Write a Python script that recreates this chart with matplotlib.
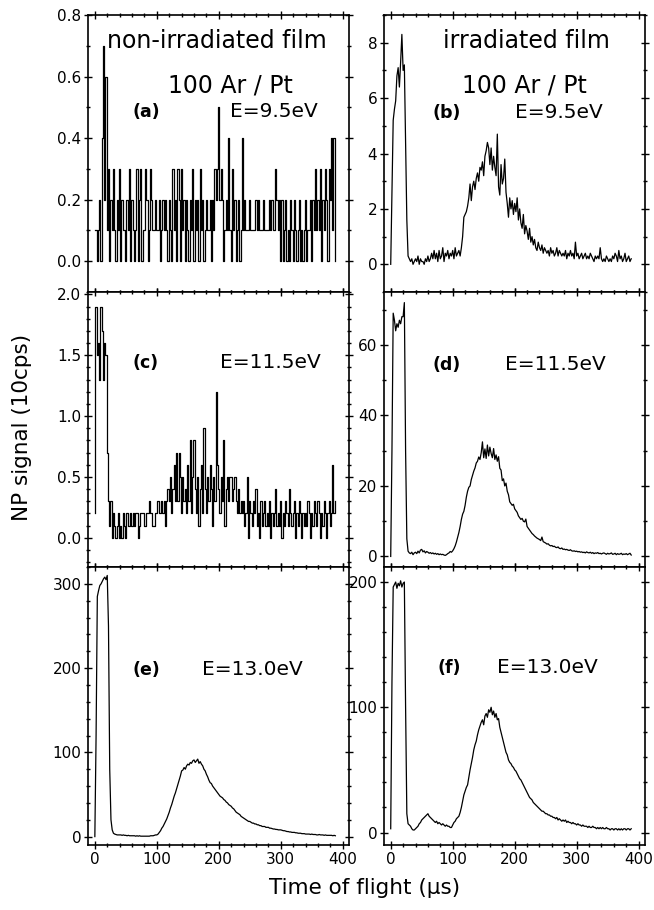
import numpy as np
import matplotlib.pyplot as plt
from matplotlib.ticker import MultipleLocator, FormatStrFormatter

plt.rcParams['font.family'] = ['DejaVu Sans']

# time of flight channels (us)
tof = np.arange(0, 390, 2)

# (a) non-irradiated film, E=9.5eV
sig_a = [0.1, 0.1, 0.0, 0.1, 0.2, 0.0, 0.4, 0.7, 0.2, 0.6,
         0.1, 0.3, 0.0, 0.2, 0.1, 0.3, 0.1, 0.0, 0.2, 0.1,
         0.3, 0.0, 0.2, 0.1, 0.1, 0.0, 0.2, 0.1, 0.3, 0.0,
         0.2, 0.1, 0.0, 0.1, 0.3, 0.0, 0.2, 0.3, 0.0, 0.1,
         0.1, 0.3, 0.2, 0.0, 0.1, 0.3, 0.2, 0.1, 0.1, 0.2,
         0.1, 0.1, 0.2, 0.0, 0.1, 0.2, 0.1, 0.2, 0.1, 0.0,
         0.2, 0.1, 0.0, 0.3, 0.1, 0.2, 0.0, 0.3, 0.2, 0.0,
         0.3, 0.1, 0.2, 0.0, 0.2, 0.1, 0.0, 0.2, 0.1, 0.3,
         0.0, 0.2, 0.1, 0.2, 0.0, 0.3, 0.1, 0.2, 0.0, 0.1,
         0.2, 0.1, 0.1, 0.2, 0.0, 0.2, 0.1, 0.3, 0.2, 0.3,
         0.5, 0.2, 0.3, 0.2, 0.0, 0.1, 0.2, 0.1, 0.4, 0.1,
         0.0, 0.3, 0.1, 0.2, 0.0, 0.1, 0.2, 0.0, 0.1, 0.4,
         0.1, 0.2, 0.1, 0.1, 0.1, 0.2, 0.1, 0.1, 0.1, 0.1,
         0.2, 0.1, 0.2, 0.1, 0.1, 0.1, 0.2, 0.1, 0.1, 0.1,
         0.1, 0.2, 0.1, 0.2, 0.1, 0.1, 0.3, 0.2, 0.1, 0.2,
         0.0, 0.2, 0.0, 0.1, 0.2, 0.0, 0.1, 0.0, 0.2, 0.1,
         0.0, 0.2, 0.1, 0.0, 0.1, 0.2, 0.0, 0.1, 0.0, 0.1,
         0.2, 0.0, 0.1, 0.1, 0.2, 0.0, 0.2, 0.1, 0.3, 0.1,
         0.2, 0.1, 0.3, 0.0, 0.2, 0.1, 0.3, 0.2, 0.0, 0.3,
         0.2, 0.4, 0.1, 0.4, 0.0]

# (b) irradiated film, E=9.5eV
sig_b = [0.0, 2.5, 5.2, 5.6, 5.9, 6.8, 7.1, 6.4, 7.3, 8.3,
         7.0, 7.2, 4.5, 1.6, 0.3, 0.2, 0.1, 0.2, 0.0, 0.1,
         0.2, 0.1, 0.3, 0.0, 0.2, 0.1, 0.1, 0.0, 0.2, 0.1,
         0.3, 0.1, 0.2, 0.4, 0.2, 0.5, 0.2, 0.4, 0.1, 0.5,
         0.2, 0.3, 0.6, 0.1, 0.4, 0.3, 0.5, 0.2, 0.4, 0.3,
         0.5, 0.2, 0.6, 0.3, 0.4, 0.5, 0.3, 0.6, 1.0, 1.7,
         1.8, 1.9, 2.1, 2.4, 2.9, 2.3, 2.8, 3.0, 2.7, 3.1,
         3.3, 3.0, 3.5, 3.4, 3.7, 3.2, 3.9, 4.1, 4.4, 4.2,
         3.6, 4.2, 3.4, 3.9, 3.5, 3.2, 4.7, 2.8, 2.5, 3.6,
         2.9, 3.1, 3.8, 2.6, 2.2, 1.7, 2.4, 2.0, 2.3, 1.8,
         2.2, 1.9, 2.4, 1.6, 2.0, 1.5, 1.3, 1.8, 1.1, 1.4,
         1.2, 0.9, 1.3, 0.8, 1.0, 0.7, 0.9, 0.6, 0.5, 0.8,
         0.6, 0.5, 0.7, 0.4, 0.6, 0.5, 0.4, 0.5, 0.3, 0.6,
         0.4, 0.5, 0.3, 0.4, 0.6, 0.3, 0.5, 0.4, 0.3, 0.4,
         0.3, 0.5, 0.2, 0.4, 0.3, 0.5, 0.3, 0.4, 0.2, 0.8,
         0.3, 0.4, 0.2, 0.3, 0.4, 0.2, 0.3, 0.4, 0.2, 0.3,
         0.2, 0.4, 0.3, 0.2, 0.1, 0.3, 0.2, 0.3, 0.2, 0.6,
         0.2, 0.1, 0.2, 0.1, 0.3, 0.2, 0.1, 0.2, 0.1, 0.3,
         0.2, 0.4, 0.3, 0.1, 0.5, 0.2, 0.3, 0.1, 0.2, 0.4,
         0.1, 0.2, 0.3, 0.1, 0.2]

# (c) non-irradiated film, E=11.5eV
sig_c = [0.2, 1.9, 1.5, 1.6, 1.3, 1.9, 1.7, 1.3, 1.6, 1.5,
         0.7, 0.3, 0.1, 0.3, 0.0, 0.2, 0.1, 0.0, 0.1, 0.2,
         0.0, 0.1, 0.0, 0.2, 0.1, 0.0, 0.2, 0.1, 0.1, 0.2,
         0.1, 0.2, 0.1, 0.2, 0.2, 0.0, 0.1, 0.2, 0.2, 0.2,
         0.1, 0.1, 0.2, 0.2, 0.3, 0.2, 0.2, 0.1, 0.1, 0.2,
         0.2, 0.3, 0.2, 0.2, 0.3, 0.2, 0.3, 0.1, 0.3, 0.4,
         0.3, 0.5, 0.2, 0.4, 0.6, 0.3, 0.7, 0.3, 0.7, 0.5,
         0.2, 0.5, 0.3, 0.4, 0.2, 0.6, 0.3, 0.8, 0.2, 0.5,
         0.8, 0.4, 0.2, 0.5, 0.1, 0.4, 0.6, 0.2, 0.9, 0.4,
         0.2, 0.5, 0.3, 0.6, 0.4, 0.1, 0.5, 0.3, 1.2, 0.6,
         0.4, 0.2, 0.5, 0.3, 0.8, 0.1, 0.4, 0.5, 0.3, 0.5,
         0.5, 0.3, 0.4, 0.5, 0.3, 0.2, 0.4, 0.2, 0.3, 0.2,
         0.3, 0.1, 0.2, 0.5, 0.0, 0.3, 0.2, 0.1, 0.3, 0.2,
         0.4, 0.1, 0.2, 0.0, 0.3, 0.1, 0.2, 0.3, 0.1, 0.2,
         0.1, 0.3, 0.0, 0.2, 0.1, 0.2, 0.4, 0.1, 0.2, 0.1,
         0.3, 0.0, 0.2, 0.1, 0.3, 0.2, 0.1, 0.4, 0.2, 0.1,
         0.2, 0.3, 0.0, 0.2, 0.1, 0.3, 0.2, 0.0, 0.2, 0.1,
         0.2, 0.1, 0.3, 0.2, 0.0, 0.2, 0.1, 0.3, 0.2, 0.1,
         0.3, 0.2, 0.0, 0.2, 0.1, 0.3, 0.2, 0.0, 0.2, 0.3,
         0.1, 0.2, 0.6, 0.2, 0.3]

# (d) irradiated film, E=11.5eV
sig_d = [0.0, 30, 69, 67, 64, 66, 65, 67, 66, 68,
         68, 72, 30, 5, 1.5, 1.0, 0.8, 1.2, 0.5, 1.0,
         1.2, 0.8, 1.5, 1.0, 1.8, 2.0, 1.3, 1.6, 1.0, 1.4,
         1.2, 0.9, 1.1, 0.8, 1.0, 0.7, 0.9, 0.6, 0.8, 0.5,
         0.7, 0.5, 0.6, 0.4, 0.3, 0.5, 0.8, 1.0, 1.4, 1.2,
         1.6, 2.2, 3.0, 4.1, 5.5, 6.8, 8.5, 10.5, 12.0, 12.8,
         14.5, 16.8, 18.5, 19.6, 20.0, 21.8, 23.0, 24.2, 25.1, 26.5,
         27.0, 28.2, 27.5, 29.4, 32.5, 28.0, 30.5, 27.8, 31.6, 28.5,
         31.0, 29.2, 28.0, 30.6, 27.5, 28.8, 27.0, 28.3, 25.0, 24.5,
         21.5, 22.0, 20.0, 20.8, 18.5, 17.5, 15.5, 15.0, 14.5, 14.8,
         13.5, 13.0, 12.5, 11.5, 11.0, 10.5, 10.8, 10.0, 9.8, 10.6,
         8.5, 8.0, 7.5, 7.0, 6.5, 6.2, 5.8, 5.5, 5.2, 5.0,
         4.8, 4.5, 5.5, 4.2, 4.0, 3.8, 3.5, 3.6, 3.2, 3.0,
         3.1, 2.8, 2.9, 2.6, 2.5, 2.7, 2.3, 2.2, 2.4, 2.0,
         2.1, 1.9, 2.0, 1.8, 1.7, 1.9, 1.6, 1.5, 1.6, 1.4,
         1.5, 1.3, 1.4, 1.2, 1.3, 1.1, 1.2, 1.0, 1.3, 1.1,
         1.0, 1.2, 0.9, 1.1, 0.8, 1.0, 0.9, 1.1, 0.8, 0.9,
         0.7, 0.9, 1.0, 0.8, 0.6, 0.9, 0.7, 0.8, 1.0, 0.6,
         0.7, 0.9, 0.5, 0.8, 0.6, 0.7, 0.9, 0.5, 0.7, 0.6,
         0.8, 0.5, 0.7, 0.9, 0.4]

# (e) non-irradiated film, E=13.0eV
sig_e = [0, 120, 285, 292, 298, 300, 303, 306, 308, 305,
         310, 250, 80, 20, 8, 4, 3, 2.5, 2, 2,
         2, 2, 1.5, 2, 1.5, 1.5, 1, 1.5, 1, 1,
         1, 1, 1, 0.5, 1, 0.5, 1, 0.5, 0.5, 0.5,
         0.5, 0.5, 0.5, 0.5, 0.5, 1, 1, 1, 1.5, 2,
         2, 3, 5, 7, 10, 12, 15, 18, 21, 25,
         29, 34, 38, 43, 48, 52, 57, 62, 67, 72,
         78, 79, 82, 80, 84, 86, 85, 88, 87, 90,
         91, 88, 90, 92, 87, 89, 86, 84, 80, 78,
         74, 71, 67, 64, 63, 60, 58, 56, 54, 52,
         50, 48, 47, 46, 44, 43, 41, 40, 38, 37,
         36, 34, 33, 31, 29, 28, 27, 26, 24, 23,
         22, 21, 20, 19, 18, 18, 17, 16, 16, 15,
         15, 14, 14, 13, 13, 12, 12, 12, 11, 11,
         11, 10, 10, 9.5, 9, 9, 8.5, 8.5, 8, 8,
         8, 7.5, 7, 7, 6.5, 6, 6, 5.5, 5.5, 5,
         5, 5, 4.5, 4.5, 4, 4, 4, 3.5, 3.5, 3.5,
         3, 3, 3, 3, 2.5, 3, 2.5, 2.5, 2.5, 2,
         2, 2.5, 2, 2, 2, 1.5, 2, 1.5, 1.5, 1.5,
         1.5, 1.5, 1, 1.5, 1]

# (f) irradiated film, E=13.0eV
sig_f = [3, 120, 196, 198, 200, 195, 199, 197, 201, 196,
         199, 200, 100, 15, 7, 6, 5, 3, 2, 2,
         3, 4, 5, 7, 8, 10, 11, 12, 13, 14,
         15, 13, 12, 11, 10, 9, 8, 9, 7, 8,
         7, 6, 7, 6, 5, 6, 5, 5, 4, 4,
         6, 8, 9, 11, 12, 13, 16, 20, 25, 30,
         33, 36, 38, 44, 50, 55, 60, 66, 70, 73,
         78, 82, 85, 88, 90, 86, 93, 95, 92, 98,
         96, 100, 94, 97, 92, 95, 90, 91, 84, 80,
         76, 72, 68, 64, 62, 58, 56, 55, 53, 52,
         50, 49, 47, 45, 43, 42, 40, 38, 36, 34,
         32, 30, 28, 27, 26, 24, 23, 22, 21, 20,
         19, 18, 17, 17, 16, 15, 15, 14, 14, 13,
         13, 12, 12, 11, 12, 10, 11, 10, 9, 10,
         9, 10, 8, 9, 8, 8, 7, 8, 7, 7,
         6, 7, 6, 6, 5, 6, 5, 5, 5, 4,
         5, 4, 4, 5, 4, 4, 3, 4, 3, 4,
         3, 4, 3, 3, 4, 3, 3, 2, 3, 3,
         2, 3, 3, 2, 3, 2, 3, 2, 3, 3,
         2, 3, 3, 2, 3]

panel_tags = ['(a)', '(b)', '(c)', '(d)', '(e)', '(f)']
energies = ['E=9.5eV', 'E=9.5eV', 'E=11.5eV', 'E=11.5eV', 'E=13.0eV', 'E=13.0eV']
signals = [sig_a, sig_b, sig_c, sig_d, sig_e, sig_f]
ylims = [(-0.1, 0.8), (-1, 9), (-0.24, 2.02), (-3, 75), (-10, 320), (-10, 212)]
y_major = [0.2, 2, 0.5, 20, 100, 100]
y_minor = [0.1, 1, 0.1, 10, 20, 20]
y_fmt = ['%.1f', '%d', '%.1f', '%d', '%d', '%d']

# axes boxes in figure fraction
col_left = [0.1346, 0.587]
col_width = 0.399
row_bottom = [0.6791, 0.3769, 0.0714]
row_height = [0.3044, 0.3022, 0.3055]

# label positions (axes fraction): tag x, energy x, baseline y
tag_pos = [(0.172, 0.544, 0.632), (0.188, 0.502, 0.628),
           (0.172, 0.506, 0.724), (0.188, 0.464, 0.716),
           (0.172, 0.437, 0.612), (0.207, 0.433, 0.619)]

fig = plt.figure(figsize=(6.54, 9.10), dpi=100)

for i in range(6):
    row, col = divmod(i, 2)
    ax = fig.add_axes([col_left[col], row_bottom[row], col_width, row_height[row]])
    ax.plot(tof, signals[i], color='black', lw=0.9,
            drawstyle='steps-mid' if i in (0, 2) else 'default')
    ax.set_xlim(-11, 410)
    ax.set_ylim(*ylims[i])
    ax.xaxis.set_major_locator(MultipleLocator(100))
    ax.xaxis.set_minor_locator(MultipleLocator(20))
    ax.yaxis.set_major_locator(MultipleLocator(y_major[i]))
    ax.yaxis.set_minor_locator(MultipleLocator(y_minor[i]))
    ax.yaxis.set_major_formatter(FormatStrFormatter(y_fmt[i]))
    ax.tick_params(axis='both', which='both', direction='inout',
                   top=True, right=True, labelsize=11, width=1)
    ax.tick_params(which='major', length=5.5, pad=2)
    ax.tick_params(which='minor', length=3)
    if row < 2:
        ax.tick_params(axis='x', labelbottom=False)
    for s in ax.spines.values():
        s.set_linewidth(1.2)

    tx, ex, by = tag_pos[i]
    ax.text(tx, by, panel_tags[i], transform=ax.transAxes, fontsize=12.5,
            fontweight='bold', va='baseline')
    ax.text(ex, by, energies[i], transform=ax.transAxes, fontsize=14.5,
            va='baseline')

    if i == 0:
        ax.text(0.073, 0.881, 'non-irradiated film', transform=ax.transAxes,
                fontsize=17, va='baseline')
        ax.text(0.307, 0.722, '100 Ar / Pt', transform=ax.transAxes,
                fontsize=17, va='baseline')
    if i == 1:
        ax.text(0.226, 0.881, 'irradiated film', transform=ax.transAxes,
                fontsize=17, va='baseline')
        ax.text(0.299, 0.722, '100 Ar / Pt', transform=ax.transAxes,
                fontsize=17, va='baseline')

fig.text(0.034, 0.530, 'NP signal (10cps)', rotation=90, fontsize=15.5,
         ha='center', va='center')
fig.text(0.558, 0.024, 'Time of flight (\u03bcs)', fontsize=15.5,
         ha='center', va='center')

fig.savefig('out.png', dpi=100)
